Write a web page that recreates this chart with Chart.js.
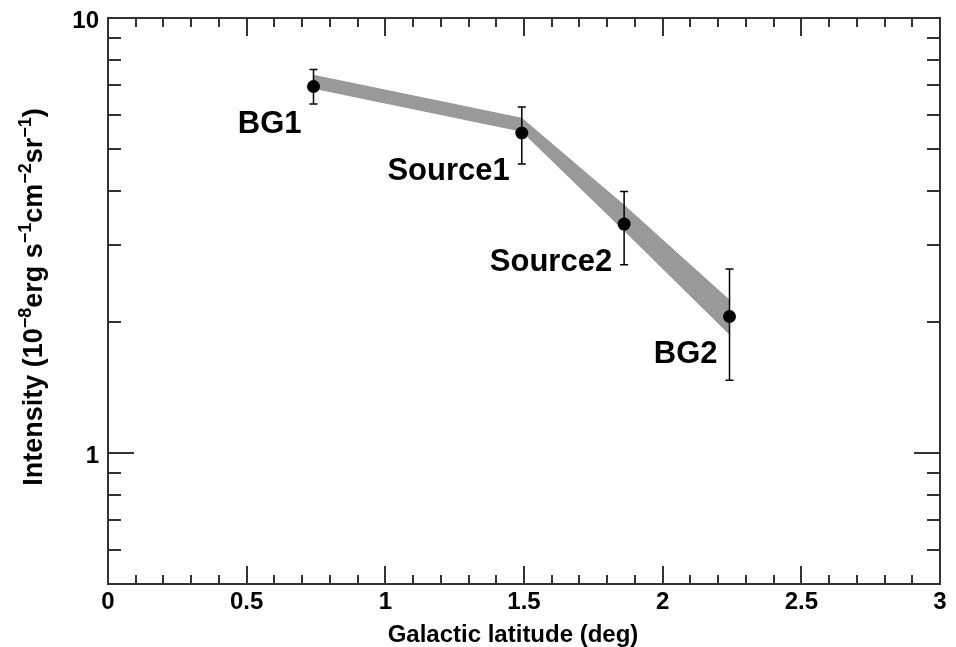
<!DOCTYPE html>
<html>
<head>
<meta charset="utf-8">
<title>Intensity vs Galactic latitude</title>
<script src="https://cdn.jsdelivr.net/npm/chart.js@4/dist/chart.umd.min.js"></script>
<style>
  html, body { margin: 0; padding: 0; background: #fff; }
  #wrap { width: 956px; height: 647px; }
</style>
</head>
<body>
<div id="wrap"><canvas id="c" width="956" height="647"></canvas></div>
<script>
// Region names and galactic latitudes (deg)
const regions = ['BG1', 'Source1', 'Source2', 'BG2'];
const latitude = [0.741, 1.492, 1.861, 2.241];
// Measured intensity (10^-8 erg s^-1 cm^-2 sr^-1) with error-bar ends
const intensity = [6.96, 5.44, 3.36, 2.06];
const errUpper = [7.61, 6.24, 3.99, 2.65];
const errLower = [6.34, 4.62, 2.71, 1.47];
// Model band (upper and lower edge) at the same latitudes
const bandUpper = [7.41, 5.90, 3.72, 2.25];
const bandLower = [6.88, 5.48, 3.24, 1.87];
// Axis tick labels
const xTickValues = [0, 0.5, 1, 1.5, 2, 2.5, 3];
const yTickValues = [1, 10];

const FONT = '"Liberation Sans", Arial, Helvetica, sans-serif';
const AXIS_COLOR = '#333333';

const pts = arr => latitude.map((x, i) => ({ x: x, y: arr[i] }));

// Frame, inward tick marks, error bars, point labels and axis titles
const decorations = {
  id: 'decorations',
  afterDatasetsDraw(chart) {
    const ctx = chart.ctx;
    const xs = chart.scales.x, ys = chart.scales.y;
    // error bars
    ctx.save();
    ctx.strokeStyle = '#000';
    ctx.lineWidth = 1.5;
    latitude.forEach((lat, i) => {
      const px = xs.getPixelForValue(lat);
      const top = ys.getPixelForValue(errUpper[i]);
      const bot = ys.getPixelForValue(errLower[i]);
      ctx.beginPath();
      ctx.moveTo(px, top); ctx.lineTo(px, bot);
      ctx.moveTo(px - 4, top); ctx.lineTo(px + 4, top);
      ctx.moveTo(px - 4, bot); ctx.lineTo(px + 4, bot);
      ctx.stroke();
    });
    ctx.restore();
  },
  afterDraw(chart) {
    const ctx = chart.ctx;
    const a = chart.chartArea;
    const xs = chart.scales.x, ys = chart.scales.y;
    ctx.save();
    ctx.strokeStyle = AXIS_COLOR;
    ctx.lineWidth = 2;
    ctx.lineCap = 'butt';
    // inward ticks on the x axis (bottom and top)
    for (let k = 1; k < 30; k++) {
      const v = k / 10;
      const major = k % 5 === 0;
      const len = major ? 18 : 9;
      const px = Math.round(xs.getPixelForValue(v));
      ctx.beginPath();
      ctx.moveTo(px, a.bottom); ctx.lineTo(px, a.bottom - len);
      ctx.moveTo(px, a.top); ctx.lineTo(px, a.top + len);
      ctx.stroke();
    }
    // inward ticks on the y axis (left and right)
    const yMinor = [0.6, 0.7, 0.8, 0.9, 2, 3, 4, 5, 6, 7, 8, 9];
    const yMajor = [1];
    yMinor.concat(yMajor).forEach(v => {
      const len = yMajor.includes(v) ? 26 : 13;
      const py = Math.round(ys.getPixelForValue(v));
      ctx.beginPath();
      ctx.moveTo(a.left, py); ctx.lineTo(a.left + len, py);
      ctx.moveTo(a.right, py); ctx.lineTo(a.right - len, py);
      ctx.stroke();
    });
    // frame
    ctx.strokeRect(a.left, a.top, a.right - a.left, a.bottom - a.top);
    ctx.restore();

    // region labels beside each point
    ctx.save();
    ctx.fillStyle = '#000';
    ctx.font = 'bold 31px ' + FONT;
    ctx.textAlign = 'right';
    ctx.textBaseline = 'middle';
    regions.forEach((name, i) => {
      const px = xs.getPixelForValue(latitude[i]);
      const py = ys.getPixelForValue(intensity[i]);
      ctx.fillText(name, px - 12, py + 38);
    });
    ctx.restore();

    // x-axis title
    ctx.save();
    ctx.fillStyle = '#000';
    ctx.font = 'bold 24px ' + FONT;
    ctx.textAlign = 'center';
    ctx.textBaseline = 'alphabetic';
    ctx.fillText('Galactic latitude (deg)', (a.left + a.right) / 2 - 11, a.bottom + 58);
    ctx.restore();

    // y-axis title with superscripts, rotated
    const parts = [
      ['Intensity (10', false], ['\u22128', true], ['erg s', false], ['\u22121', true],
      ['cm', false], ['\u22122', true], ['sr', false], ['\u22121', true], [')', false]
    ];
    const mainFont = 'bold 27px ' + FONT;
    const supFont = 'bold 18px ' + FONT;
    ctx.save();
    let total = 0;
    parts.forEach(([t, sup]) => { ctx.font = sup ? supFont : mainFont; total += ctx.measureText(t).width; });
    ctx.translate(42, 297);
    ctx.rotate(-Math.PI / 2);
    ctx.fillStyle = '#000';
    ctx.textBaseline = 'alphabetic';
    ctx.textAlign = 'left';
    let cx = -total / 2;
    parts.forEach(([t, sup]) => {
      ctx.font = sup ? supFont : mainFont;
      ctx.fillText(t, cx, sup ? -11 : 0);
      cx += ctx.measureText(t).width;
    });
    ctx.restore();
  }
};

new Chart(document.getElementById('c'), {
  type: 'line',
  data: {
    datasets: [
      {
        label: 'band upper',
        data: pts(bandUpper),
        borderColor: 'rgba(0,0,0,0)',
        borderWidth: 0,
        pointRadius: 0,
        fill: false,
        tension: 0,
        order: 2
      },
      {
        label: 'band lower',
        data: pts(bandLower),
        borderColor: 'rgba(0,0,0,0)',
        borderWidth: 0,
        pointRadius: 0,
        backgroundColor: 'rgb(153,153,153)',
        fill: '-1',
        tension: 0,
        order: 1
      },
      {
        label: 'intensity',
        data: pts(intensity),
        showLine: false,
        pointRadius: 6.5,
        pointBorderWidth: 0,
        pointBackgroundColor: '#000',
        pointBorderColor: '#000',
        order: 0
      }
    ]
  },
  options: {
    responsive: false,
    animation: false,
    layout: { padding: { left: 0, right: 16, top: 18, bottom: 0 } },
    plugins: { legend: { display: false }, tooltip: { enabled: false } },
    scales: {
      x: {
        type: 'linear',
        min: 0, max: 3,
        grid: { display: false, drawTicks: false },
        border: { display: false },
        afterBuildTicks: s => { s.ticks = xTickValues.map(v => ({ value: v })); },
        afterFit: s => { s.height = 63; s.paddingLeft = 0; s.paddingRight = 0; },
        ticks: {
          padding: 4,
          color: '#000',
          font: { family: FONT, size: 24, weight: 'bold' },
          callback: v => String(v)
        }
      },
      y: {
        type: 'logarithmic',
        min: 0.5, max: 10,
        grid: { display: false, drawTicks: false },
        border: { display: false },
        afterBuildTicks: s => { s.ticks = yTickValues.map(v => ({ value: v })); },
        afterFit: s => { s.width = 108; s.paddingTop = 0; s.paddingBottom = 0; },
        ticks: {
          padding: 9,
          labelOffset: 3,
          color: '#000',
          font: { family: FONT, size: 24, weight: 'bold' },
          callback: v => String(v)
        }
      }
    }
  },
  plugins: [decorations]
});
</script>
</body>
</html>
